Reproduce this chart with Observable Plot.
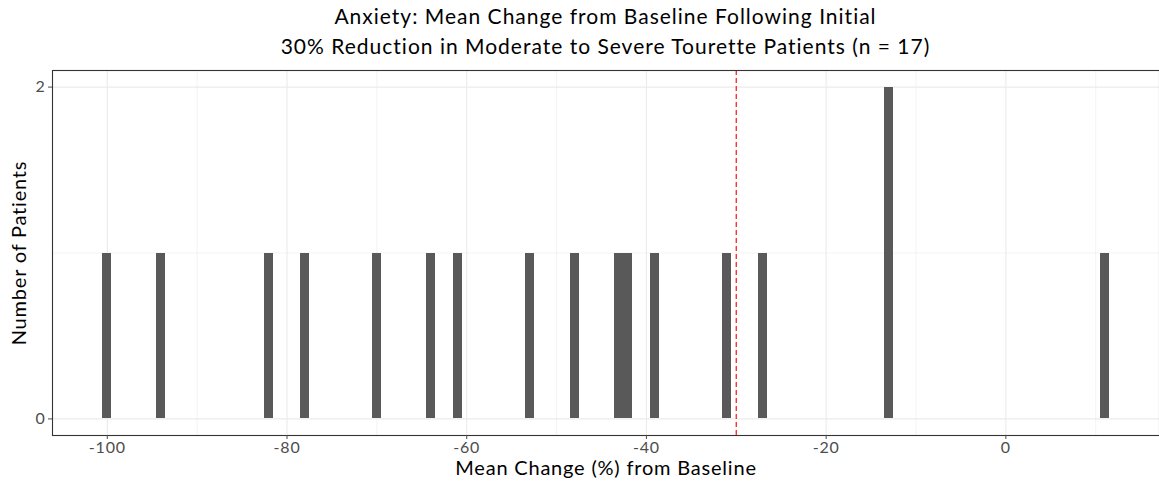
<!DOCTYPE html>
<html>
<head>
<meta charset="utf-8">
<script src="https://cdn.jsdelivr.net/npm/d3@7"></script>
<script src="https://cdn.jsdelivr.net/npm/@observablehq/plot@0.6"></script>
<style>
  body { margin: 0; background: #fff; font-family: Lato, "Open Sans", sans-serif; }
  #title { width: 1159px; padding-left: 52px; box-sizing: border-box; height: 60px; padding-top: 1px; text-align: center; font-size: 21px; letter-spacing: 1px; line-height: 30px; color: #000; }
  #chart svg { display: block; }
  #chart svg text { letter-spacing: 0.8px; }
</style>
</head>
<body>
<div id="title">Anxiety: Mean Change from Baseline Following Initial<br>30% Reduction in Moderate to Severe Tourette Patients (n = 17)</div>
<div id="chart"></div>
<script>
// Mean change (%) from baseline for each patient (n = 17)
const changes = [-100, -94, -82, -78, -70, -64, -61, -53, -48, -43, -42, -39, -31, -27, -13, -13, 11];
const threshold = [-30];
const xMajor = [-100, -80, -60, -40, -20, 0];
const xMinor = [-90, -70, -50, -30, -10, 10];
const yMajor = [0, 2];
const yMinor = [1];
const titleX = "Mean Change (%) from Baseline";
const titleY = "Number of Patients";

const bins = d3.range(-100.5, 12, 1);

const chart = Plot.plot({
  width: 1159,
  height: 424,
  marginTop: 10,
  marginBottom: 49,
  marginLeft: 52,
  marginRight: 0,
  style: { fontFamily: "Lato, 'Open Sans', sans-serif", background: "#fff" },
  x: { domain: [-106.1, 17.1] },
  y: { domain: [-0.1, 2.1] },
  marks: [
    Plot.ruleX(xMinor, { stroke: "#ebebeb", strokeWidth: 0.6 }),
    Plot.ruleY(yMinor, { stroke: "#ebebeb", strokeWidth: 0.6 }),
    Plot.ruleX(xMajor, { stroke: "#ebebeb", strokeWidth: 1.1 }),
    Plot.ruleY(yMajor, { stroke: "#ebebeb", strokeWidth: 1.1 }),
    Plot.rectY(changes, Plot.binX({ y: "count" }, { x: d => d, thresholds: bins, fill: "#595959", inset: 0, shapeRendering: "crispEdges" })),
    Plot.ruleX(threshold, { stroke: "#ff3333", strokeWidth: 1.4, strokeDasharray: "5,3" }),
    Plot.frame({ stroke: "#333", strokeWidth: 1.1 }),
    Plot.axisX(xMajor, { tickSize: 4, tickPadding: 2, fontSize: 16, color: "#4d4d4d", label: null, tickFormat: d => String(d) }),
    Plot.axisY(yMajor, { tickSize: 4, tickPadding: 3, fontSize: 16, color: "#4d4d4d", label: null, tickFormat: d => String(d) }),
    Plot.text([titleX], { frameAnchor: "bottom", dy: 33, fontSize: 20, fill: "#000", lineAnchor: "middle" }),
    Plot.text([titleY], { frameAnchor: "left", dx: -33, rotate: -90, fontSize: 20, fill: "#000", textAnchor: "middle", lineAnchor: "middle" })
  ]
});
document.getElementById("chart").appendChild(chart);
</script>
</body>
</html>
